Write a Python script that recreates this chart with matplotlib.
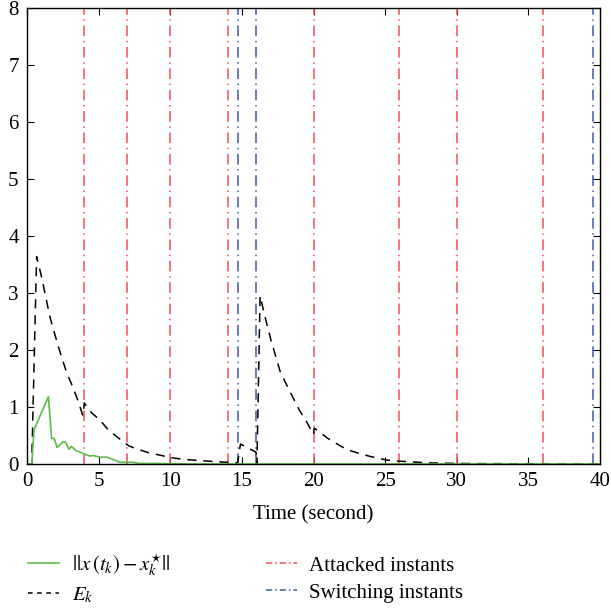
import numpy as np
import matplotlib
matplotlib.use('Agg')
from matplotlib import pyplot as plt
from matplotlib.lines import Line2D

plt.rcParams['font.family'] = 'Liberation Serif'
plt.rcParams['mathtext.fontset'] = 'stix'

# ||x(t_k) - x_k*|| (green)
t_err = [0, 0.33, 0.49, 1.49, 1.72, 1.9, 2.1, 2.5, 2.7, 2.93, 3.1, 3.4, 4.05, 4.4, 4.6,
         5.1, 5.6, 6.5, 7.4, 7.8, 8.7, 10, 12, 40]
v_err = [0, 0, 0.6, 1.18, 0.45, 0.45, 0.29, 0.39, 0.38, 0.26, 0.31, 0.24, 0.17, 0.14, 0.15,
         0.12, 0.12, 0.03, 0.03, 0.01, 0.01, 0.005, 0, 0]

# E_k (black dashed)
t_E = [0, 0.33, 0.67, 1.0, 1.6, 2.2, 2.77, 3.2, 3.5, 3.9, 4.0, 4.5, 5.1, 5.6, 6.26, 7.1,
       7.6, 8.6, 9.2, 10.1, 11, 12.1, 13, 14, 14.7, 14.9, 15.9, 16.0, 16.05, 16.27,
       16.6, 17, 17.7, 18.4, 19, 19.5, 20.0, 20.05, 21, 22, 22.5, 23, 24, 25.1, 26, 28, 30, 35, 40]
v_E = [0, 0, 3.64, 3.3, 2.58, 2.05, 1.6, 1.35, 1.15, 0.85, 1.07, 0.9, 0.77, 0.62, 0.48, 0.32,
       0.27, 0.19, 0.16, 0.11, 0.08, 0.06, 0.045, 0.03, 0.02, 0.35, 0.22, 0.2, 0, 2.95,
       2.6, 2.2, 1.6, 1.25, 0.95, 0.75, 0.52, 0.63, 0.45, 0.3, 0.24, 0.2, 0.13, 0.07, 0.05, 0.02, 0.01, 0.003, 0]

attacked = [4, 7, 10, 14, 20, 26, 30, 36]
switching = [14.7, 16, 39.5]

red = '#f0505a'
blue = '#3c5aa8'
green = '#5cba47'

fig = plt.figure(figsize=(6.11, 6.12), dpi=100)
ax = fig.add_axes([0.0442, 0.2418, 0.9378, 0.7451])

for t in attacked:
    ax.axvline(t, color=red, lw=1.1, ls=(0, (7, 3, 1, 3)))
for t in switching:
    ax.axvline(t, color=blue, lw=1.1, ls=(0, (7, 3, 1, 3)))

ax.plot(t_E, v_E, color='black', lw=1.1, ls=(0, (6, 4.5)))
ax.plot(t_err, v_err, color=green, lw=1.2)

ax.set_xlim(0, 40)
ax.set_ylim(0, 8)
ax.set_xticks(np.arange(0, 41, 5))
ax.set_yticks(np.arange(0, 9, 1))
ax.tick_params(direction='in', top=True, right=True, length=5, labelsize=15)
ax.tick_params(axis='x', pad=6)
ax.tick_params(axis='y', pad=6)
for s in ax.spines.values():
    s.set_linewidth(1.0)
ax.set_xlabel('Time (second)', fontsize=15, labelpad=10)

handles = [
    Line2D([], [], color=green, lw=1.2),
    Line2D([], [], color='black', lw=1.1, ls=(0, (3, 3))),
    Line2D([], [], color=red, lw=1.1, ls=(0, (4, 2, 1, 2))),
    Line2D([], [], color=blue, lw=1.1, ls=(0, (4, 2, 1, 2))),
]
labels = [r'$||x\,(t_k) - x_k^{\star}||$', r'$E_k$', 'Attacked instants', 'Switching instants']
fig.legend(handles, labels, ncol=2, loc='upper left', bbox_to_anchor=(0.015, 0.13),
           frameon=False, fontsize=15, handlelength=1.5, columnspacing=4.6,
           handletextpad=0.6, labelspacing=0.35)

fig.savefig('out.png', dpi=100)
